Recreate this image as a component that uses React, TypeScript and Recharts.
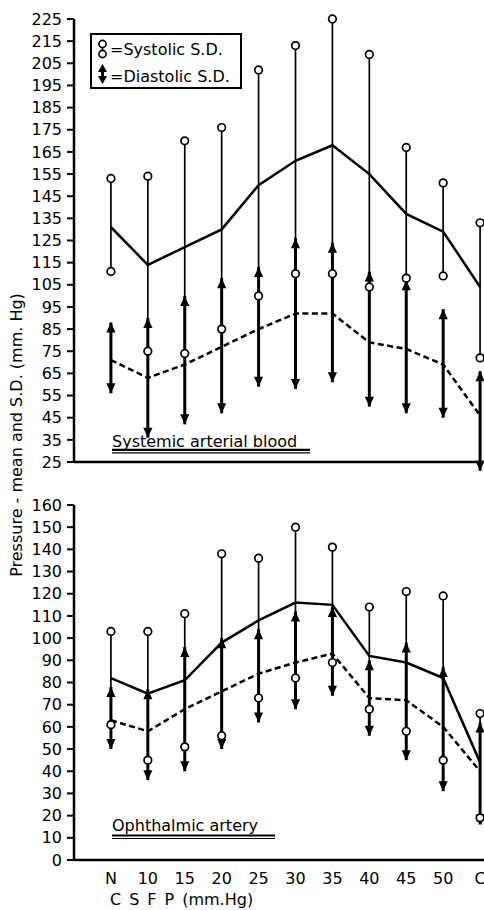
import React from 'react';
import { ComposedChart, Line, XAxis, YAxis, ReferenceLine, ReferenceDot } from 'recharts';

const categories = ['N', '10', '15', '20', '25', '30', '35', '40', '45', '50', 'C'];

// Systemic arterial blood (mm.Hg)
const sysMeanTop = [131, 114, 122, 130, 150, 161, 168, 155, 137, 129, 104];
const sysHighTop = [153, 154, 170, 176, 202, 213, 225, 209, 167, 151, 133];
const sysLowTop = [111, 75, 74, 85, 100, 110, 110, 104, 108, 109, 72];
const diaMeanTop = [71, 63, 69, 77, 85, 92, 92, 79, 76, 69, 46];
const diaHighTop = [88, 90, 100, 108, 113, 126, 124, 111, 107, 94, 66];
const diaLowTop = [56, 36, 42, 47, 59, 58, 61, 50, 47, 45, 21];

// Ophthalmic artery (mm.Hg)
const sysMeanBot = [82, 75, 81, 98, 108, 116, 115, 92, 89, 82, 44];
const sysHighBot = [103, 103, 111, 138, 136, 150, 141, 114, 121, 119, 66];
const sysLowBot = [61, 45, 51, 56, 73, 82, 89, 68, 58, 45, 19];
const diaMeanBot = [63, 58, 68, 76, 84, 89, 93, 73, 72, 60, 40];
const diaHighBot = [78, 77, 96, 100, 104, 112, 114, 90, 98, 87, 62];
const diaLowBot = [50, 36, 40, 50, 62, 68, 74, 56, 45, 31, 16];

const topTicks = [25, 35, 45, 55, 65, 75, 85, 95, 105, 115, 125, 135, 145, 155, 165, 175, 185, 195, 205, 215, 225];
const botTicks = [0, 10, 20, 30, 40, 50, 60, 70, 80, 90, 100, 110, 120, 130, 140, 150, 160];
const xTicks = categories.map((_, i) => i);

const FONT = 'DejaVu Sans';

const buildRows = (sysMean: number[], diaMean: number[]) =>
  categories.map((c, i) => ({ i, cat: c, sysMean: sysMean[i], diaMean: diaMean[i] }));

const UpArrow = (p: any) => (
  <path d={`M${p.cx},${p.cy} L${p.cx + 4.6},${p.cy + 10} L${p.cx - 4.6},${p.cy + 10} Z`} fill="#000" />
);
const DownArrow = (p: any) => (
  <path d={`M${p.cx},${p.cy} L${p.cx + 4.6},${p.cy - 10} L${p.cx - 4.6},${p.cy - 10} Z`} fill="#000" />
);

function sdMarks(
  prefix: string,
  sysHigh: number[],
  sysLow: number[],
  diaHigh: number[],
  diaLow: number[]
) {
  const out: React.ReactNode[] = [];
  categories.forEach((_, i) => {
    out.push(
      <ReferenceLine
        key={`${prefix}-sl-${i}`}
        segment={[{ x: i, y: sysLow[i] }, { x: i, y: sysHigh[i] }]}
        stroke="#000"
        strokeWidth={1.7}
        ifOverflow="visible"
      />
    );
    out.push(
      <ReferenceLine
        key={`${prefix}-dl-${i}`}
        segment={[{ x: i, y: diaLow[i] }, { x: i, y: diaHigh[i] }]}
        stroke="#000"
        strokeWidth={3}
        ifOverflow="visible"
      />
    );
  });
  categories.forEach((_, i) => {
    out.push(
      <ReferenceDot key={`${prefix}-du-${i}`} x={i} y={diaHigh[i]} r={4} ifOverflow="visible" shape={UpArrow} />
    );
    out.push(
      <ReferenceDot key={`${prefix}-dd-${i}`} x={i} y={diaLow[i]} r={4} ifOverflow="visible" shape={DownArrow} />
    );
    out.push(
      <ReferenceDot
        key={`${prefix}-sh-${i}`}
        x={i}
        y={sysHigh[i]}
        r={3.8}
        fill="#fff"
        stroke="#000"
        strokeWidth={1.7}
        ifOverflow="visible"
      />
    );
    out.push(
      <ReferenceDot
        key={`${prefix}-slo-${i}`}
        x={i}
        y={sysLow[i]}
        r={3.8}
        fill="#fff"
        stroke="#000"
        strokeWidth={1.7}
        ifOverflow="visible"
      />
    );
  });
  return out;
}

const axisLine = { stroke: '#000', strokeWidth: 2.5 };
const tickLine = { stroke: '#000', strokeWidth: 2 };
const tickStyle = { fill: '#000', fontSize: 16, fontFamily: FONT };

export default function App() {
  const topRows = buildRows(sysMeanTop, diaMeanTop);
  const botRows = buildRows(sysMeanBot, diaMeanBot);
  return (
    <div style={{ position: 'relative', width: 484, height: 910, overflow: 'hidden', background: '#fff' }}>
      <style>{'html { overflow: hidden; } body { margin: 0; }'}</style>
      <div style={{ position: 'absolute', left: 8, top: 8 }}>
        <ComposedChart width={530} height={500} data={topRows} margin={{ top: 11, right: 21, bottom: 30, left: 0 }}>
          <XAxis
            dataKey="i"
            type="number"
            domain={[-1, 11]}
            ticks={xTicks}
            interval={0}
            axisLine={axisLine}
            tickLine={tickLine}
            tickSize={7}
            tick={false}
            height={16}
          />
          <YAxis
            type="number"
            domain={[25, 225]}
            ticks={topTicks}
            interval={0}
            width={66}
            axisLine={axisLine}
            tickLine={tickLine}
            tickSize={7}
            tickMargin={5}
            tick={tickStyle}
          />
          {sdMarks('t', sysHighTop, sysLowTop, diaHighTop, diaLowTop)}
          <Line dataKey="sysMean" stroke="#000" strokeWidth={2.5} dot={false} isAnimationActive={false} />
          <Line
            dataKey="diaMean"
            stroke="#000"
            strokeWidth={2.5}
            strokeDasharray="6 3.5"
            dot={false}
            isAnimationActive={false}
          />
        </ComposedChart>
      </div>
      <div style={{ position: 'absolute', left: 8, top: 478 }}>
        <ComposedChart width={530} height={432} data={botRows} margin={{ top: 27, right: 21, bottom: 0, left: 0 }}>
          <XAxis
            dataKey="i"
            type="number"
            domain={[-1, 11]}
            ticks={xTicks}
            interval={0}
            axisLine={axisLine}
            tickLine={false}
            tickSize={6}
            tickMargin={7}
            tickFormatter={(v: number) => categories[v] ?? ''}
            tick={tickStyle}
            height={50}
          />
          <YAxis
            type="number"
            domain={[0, 160]}
            ticks={botTicks}
            interval={0}
            width={66}
            axisLine={axisLine}
            tickLine={tickLine}
            tickSize={7}
            tickMargin={5}
            tick={tickStyle}
          />
          {sdMarks('b', sysHighBot, sysLowBot, diaHighBot, diaLowBot)}
          <Line dataKey="sysMean" stroke="#000" strokeWidth={2.5} dot={false} isAnimationActive={false} />
          <Line
            dataKey="diaMean"
            stroke="#000"
            strokeWidth={2.5}
            strokeDasharray="6 3.5"
            dot={false}
            isAnimationActive={false}
          />
        </ComposedChart>
      </div>
      <svg
        width={476}
        height={902}
        style={{ position: 'absolute', left: 8, top: 8, pointerEvents: 'none' }}
        fontFamily={FONT}
      >
        {/* legend */}
        <rect x={83} y={26} width={150} height={54} fill="#fff" stroke="#000" strokeWidth={2} />
        <line x1={94.5} y1={37} x2={94.5} y2={45} stroke="#000" strokeWidth={1.5} />
        <circle cx={94.5} cy={36} r={3.6} fill="#fff" stroke="#000" strokeWidth={1.6} />
        <circle cx={94.5} cy={46} r={3.6} fill="#fff" stroke="#000" strokeWidth={1.6} />
        <text x={102} y={47} fontSize={16} fill="#000">=Systolic S.D.</text>
        <line x1={94.5} y1={60} x2={94.5} y2={72} stroke="#000" strokeWidth={3} />
        <path d="M94.5,56 L99,64 L90,64 Z" fill="#000" />
        <path d="M94.5,76 L99,68 L90,68 Z" fill="#000" />
        <text x={102} y={74} fontSize={16} fill="#000">=Diastolic S.D.</text>

        {/* panel titles */}
        <text x={104} y={439} fontSize={16} fill="#000">Systemic arterial blood</text>
        <line x1={104} y1={441.8} x2={302} y2={441.8} stroke="#000" strokeWidth={2.2} />
        <line x1={104} y1={444.8} x2={302} y2={444.8} stroke="#000" strokeWidth={1.2} />
        <text x={104} y={823} fontSize={16} fill="#000">Ophthalmic artery</text>
        <line x1={104} y1={827.5} x2={267} y2={827.5} stroke="#000" strokeWidth={2} />
        <line x1={104} y1={830.5} x2={267} y2={830.5} stroke="#000" strokeWidth={1.2} />

        {/* axis titles */}
        <text x={14} y={427} fontSize={16} fill="#000" textAnchor="middle" transform="rotate(-90, 14, 427)">
          Pressure - mean and S.D. (mm. Hg)
        </text>
        <text x={102} y={897} fontSize={16} fill="#000">
          <tspan letterSpacing={8}>CSFP</tspan>
          <tspan>(mm.Hg)</tspan>
        </text>
      </svg>
    </div>
  );
}
